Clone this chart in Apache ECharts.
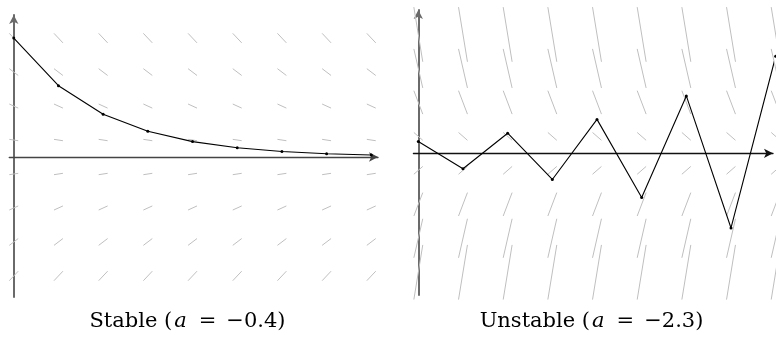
<!DOCTYPE html>
<html><head><meta charset="utf-8">
<script src="https://cdn.jsdelivr.net/npm/echarts@6/dist/echarts.min.js"></script>
<style>html,body{margin:0;padding:0;background:#fff}#c{width:776px;height:337px}</style>
</head><body><div id="c"></div>
<script>
// Euler steps (h = 1)
const steps = [0, 1, 2, 3, 4, 5, 6, 7, 8];
const stableY = [3.5, 2.1, 1.26, 0.756, 0.454, 0.272, 0.163, 0.098, 0.059];
const unstableY = [0.35, -0.455, 0.592, -0.769, 1.0, -1.3, 1.69, -2.197, 2.856];
// slope field grid
const fieldX = [0, 1, 2, 3, 4, 5, 6, 7, 8];
const fieldY = [-3.5, -2.5, -1.5, -0.5, 0.5, 1.5, 2.5, 3.5];
const aStable = -0.4;
const aUnstable = -2.3;
const captions = ['{t|Stable}{sp| }{t|(}{it|a}{eq|=}{t|\u22120.4)}', '{t|Unstable}{sp| }{t|(}{it|a}{eq|=}{t|\u22122.3)}'];

function fieldData(a) {
  const d = [];
  fieldX.forEach(x => fieldY.forEach(y => d.push([x, y, a * y])));
  return d;
}
const HALF = 0.1;
function renderSeg(params, api) {
  const x = api.value(0), y = api.value(1), s = api.value(2);
  const p1 = api.coord([x - HALF, y - HALF * s]);
  const p2 = api.coord([x + HALF, y + HALF * s]);
  return { type: 'line', shape: { x1: p1[0], y1: p1[1], x2: p2[0], y2: p2[1] },
    style: { stroke: '#bfbfbf', lineWidth: 1 } };
}
function xAx(idx, min, max, color, w) {
  return { gridIndex: idx, type: 'value', min: min, max: max,
    axisLine: { onZero: true, lineStyle: { color: color, width: w }, symbol: ['none', 'arrow'], symbolSize: [7, 9] },
    axisTick: { show: false }, axisLabel: { show: false }, splitLine: { show: false } };
}
function yAx(idx, min, max) {
  return { gridIndex: idx, type: 'value', min: min, max: max,
    axisLine: { onZero: true, lineStyle: { color: '#6a6a6a', width: 2 }, symbol: ['none', 'arrow'], symbolSize: [7, 9] },
    axisTick: { show: false }, axisLabel: { show: false }, splitLine: { show: false } };
}
const FONT = 'DejaVu Serif';
const FS = 21;
function caption(x, t) {
  return { type: 'text', x: x, y: 322, style: { text: t, align: 'center', verticalAlign: 'middle',
    fontFamily: FONT, fontSize: FS, fill: '#000',
    rich: {
      t: { fontFamily: FONT, fontSize: FS, fill: '#000' },
      sp: { fontFamily: FONT, fontSize: FS, padding: [0, 0, 0, 0] },
      it: { fontStyle: 'italic', fontFamily: FONT, fontSize: FS, fill: '#000', padding: [0, 2, 0, 2] },
      eq: { fontFamily: FONT, fontSize: FS, fill: '#000', padding: [0, 10, 0, 10] }
    } } };
}
const chart = echarts.init(document.getElementById('c'), null, { renderer: 'canvas' });
chart.setOption({
  animation: false,
  grid: [
    { left: 9.3, top: 15, width: 368.7, height: 282, outerBoundsMode: 'none' },
    { left: 413.4, top: 10, width: 359.6, height: 285, outerBoundsMode: 'none' }
  ],
  xAxis: [xAx(0, -0.1, 8.15, '#444', 1.4), xAx(1, -0.11, 7.94, '#111', 1.3)],
  yAxis: [yAx(0, -4.12, 4.18), yAx(1, -4.17, 4.22)],
  graphic: [caption(187.5, captions[0]), caption(591.5, captions[1])],
  series: [
    { type: 'custom', xAxisIndex: 0, yAxisIndex: 0, data: fieldData(aStable), renderItem: renderSeg, clip: false, z: 1 },
    { type: 'custom', xAxisIndex: 1, yAxisIndex: 1, data: fieldData(aUnstable), renderItem: renderSeg, clip: false, z: 1 },
    { type: 'line', xAxisIndex: 0, yAxisIndex: 0, data: steps.map((s, i) => [s, stableY[i]]), clip: false,
      symbol: 'circle', symbolSize: 3, itemStyle: { color: '#000' }, lineStyle: { color: '#000', width: 1.1 }, z: 5 },
    { type: 'line', xAxisIndex: 1, yAxisIndex: 1, data: steps.map((s, i) => [s, unstableY[i]]), clip: false,
      symbol: 'circle', symbolSize: 3, itemStyle: { color: '#000' }, lineStyle: { color: '#000', width: 1.1 }, z: 5 }
  ]
});
</script></body></html>
